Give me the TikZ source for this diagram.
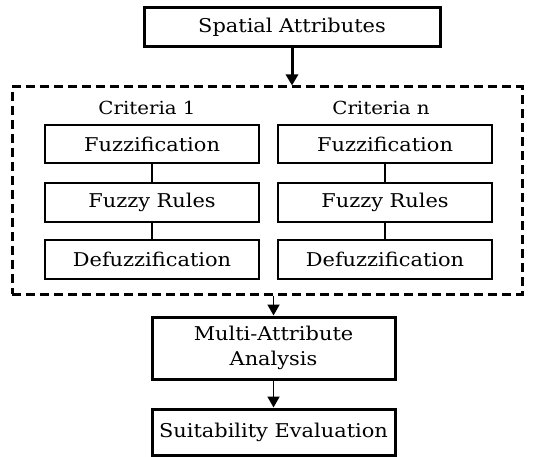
\documentclass[tikz,border=0pt]{standalone}
\usepackage{fontspec}
\setmainfont[FakeStretch=1.1]{DejaVu Serif}
\usetikzlibrary{arrows.meta}
\begin{document}
\begin{tikzpicture}[x=1pt,y=-1pt,
  every node/.style={font=\fontsize{19}{25}\selectfont, inner sep=0pt, align=center},
  thickbox/.style={draw, line width=3pt, minimum width=#1, fill=white},
  thinbox/.style={draw, line width=1.8pt, minimum width=214pt, minimum height=38.5pt},
  arr/.style={line width=1.8pt, -{Triangle[width=12pt,length=11pt]}},
  link/.style={line width=1.8pt}]
\useasboundingbox (0,0) rectangle (546,457);
\node[thickbox=296pt, minimum height=39pt] (sa) at (292,27.5) {Spatial Attributes};
\node[draw, line width=3pt, dash pattern=on 9pt off 5pt, minimum width=510pt, minimum height=207pt] (grp) at (267,190.5) {};
\node[font=\fontsize{18}{22}\selectfont] (c1) at (147,108) {Criteria 1};
\node[font=\fontsize{18}{22}\selectfont] (cn) at (381,108) {Criteria n};
\node[thinbox] (f1) at (152,144) {Fuzzification};
\node[thinbox] (r1) at (152,202.5) {Fuzzy Rules};
\node[thinbox] (d1) at (152,259.5) {Defuzzification};
\node[thinbox] (fn) at (385,144) {Fuzzification};
\node[thinbox] (rn) at (385,202.5) {Fuzzy Rules};
\node[thinbox] (dn) at (385,259.5) {Defuzzification};
\draw[link] (f1) -- (r1);
\draw[link] (r1) -- (d1);
\draw[link] (fn) -- (rn);
\draw[link] (rn) -- (dn);
\node[thickbox=243pt, minimum height=62pt] (ma) at (273.5,348) {Multi-Attribute\\Analysis};
\node[thickbox=243pt, minimum height=46pt] (su) at (273.5,432) {Suitability Evaluation};
\draw[arr, line width=3pt] (sa.south) -- (sa.south |- grp.north);
\draw[arr] (ma.north |- grp.south) -- (ma.north);
\draw[arr] (ma.south) -- (su.north);
\end{tikzpicture}
\end{document}
